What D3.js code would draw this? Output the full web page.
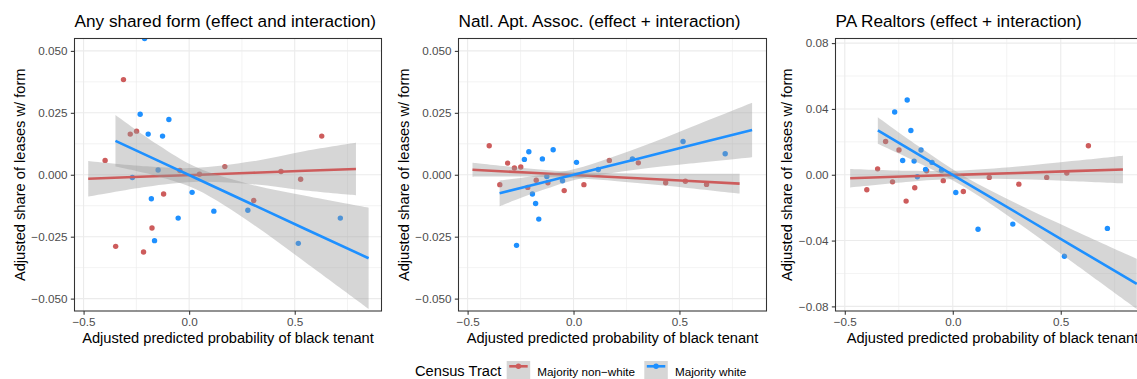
<!DOCTYPE html>
<html>
<head>
<meta charset="utf-8">
<script src="https://cdn.jsdelivr.net/npm/d3@7"></script>
<style>
  body { margin: 0; background: #ffffff; }
  text { font-family: "Liberation Sans", Arial, Helvetica, sans-serif; }
  .tick text { fill: #4d4d4d; font-size: 11.7px; }
  .tick line { stroke: #333333; stroke-width: 1.07px; }
  .domain { display: none; }
</style>
</head>
<body>
<div id="chart"></div>
<script>
// x positions of the binned tracts (same in every panel)
var redX = [-0.398, -0.348, -0.311, -0.279, -0.249, -0.216, -0.176, -0.121, -0.044, 0.049, 0.169, 0.306, 0.435, 0.528, 0.628];
var blueX = [-0.269, -0.232, -0.211, -0.194, -0.179, -0.164, -0.147, -0.126, -0.096, -0.052, 0.014, 0.117, 0.278, 0.517, 0.716];

// y values per panel
var anyRedY = [0.0058, -0.0289, 0.0384, 0.0164, 0.0176, -0.0312, -0.0215, -0.0078, 0.0017, 0.0002, 0.0033, -0.0104, 0.0013, -0.0018, 0.0156];
var anyBlueY = [-0.0011, 0.0244, 0.0550, 0.0164, -0.0097, -0.0266, 0.0019, 0.0156, 0.0223, -0.0175, -0.0071, -0.0147, -0.0143, -0.0277, -0.0175];
var naaRedY = [0.0117, -0.0040, 0.0047, 0.0027, 0.0031, -0.0051, -0.0022, -0.0032, -0.0064, -0.0040, 0.0058, 0.0048, -0.0032, -0.0026, -0.0039];
var naaBlueY = [-0.0285, 0.0062, 0.0093, -0.0078, -0.0116, -0.0179, 0.0064, -0.0007, 0.0101, -0.0024, 0.0050, 0.0021, 0.0064, 0.0134, 0.0085];
var paRedY = [-0.0091, 0.0036, 0.0202, -0.0043, 0.0150, -0.0160, -0.0079, 0.0024, -0.0036, -0.0102, -0.0016, -0.0057, -0.0016, 0.0010, 0.0176];
var paBlueY = [0.0381, 0.0087, 0.0454, 0.0269, 0.0083, -0.0012, 0.0150, 0.0032, 0.0075, 0.0028, -0.0108, -0.0331, -0.0300, -0.0495, -0.0326];

// fitted lines: [x, fit, lower, upper]
var anyRedFit = [[-0.478, -0.0016, -0.0088, 0.0056], [-0.2, -0.0007, -0.0048, 0.0034], [0.02, -0.0001, -0.0029, 0.0027],
  [0.3, 0.0008, -0.0038, 0.0054], [0.55, 0.0016, -0.0064, 0.0096], [0.79, 0.0023, -0.0083, 0.0129]];
var anyBlueFit = [[-0.349, 0.0137, 0.0033, 0.0241], [-0.15, 0.0058, -0.0006, 0.0122], [0.035, -0.0015, -0.0060, 0.0030],
  [0.3, -0.0120, -0.0199, -0.0041], [0.55, -0.0219, -0.0353, -0.0085], [0.85, -0.0337, -0.0541, -0.0133]];
var naaRedFit = [[-0.477, 0.0020, -0.0008, 0.0048], [-0.2, 0.0008, -0.0008, 0.0024], [0.02, -0.0002, -0.0014, 0.0010],
  [0.3, -0.0014, -0.0033, 0.0005], [0.55, -0.0025, -0.0054, 0.0004], [0.784, -0.0036, -0.0076, 0.0004]];
var naaBlueFit = [[-0.349, -0.0075, -0.0127, -0.0023], [-0.15, -0.0032, -0.0063, -0.0001], [0.014, 0.0003, -0.0019, 0.0025],
  [0.3, 0.0064, 0.0021, 0.0107], [0.55, 0.0118, 0.0045, 0.0191], [0.843, 0.0181, 0.0071, 0.0291]];
var paRedFit = [[-0.475, -0.0021, -0.0077, 0.0035], [-0.2, -0.0009, -0.0042, 0.0024], [0.01, -0.0001, -0.0026, 0.0024],
  [0.3, 0.0011, -0.0028, 0.0050], [0.55, 0.0022, -0.0039, 0.0083], [0.788, 0.0032, -0.0052, 0.0116]];
var paBlueFit = [[-0.347, 0.0269, 0.0189, 0.0349], [-0.15, 0.0116, 0.0067, 0.0165], [0.05, -0.0040, -0.0072, -0.0008],
  [0.3, -0.0234, -0.0290, -0.0178], [0.55, -0.0429, -0.0527, -0.0331], [0.852, -0.0663, -0.0815, -0.0511]];

// ticks
var xTicks = [-0.5, 0, 0.5];
var xTickLabels = ["\u22120.5", "0.0", "0.5"];
var xMinor = [-0.25, 0.25, 0.75];
var yTicksA = [-0.05, -0.025, 0, 0.025, 0.05];
var yTickLabelsA = ["\u22120.050", "\u22120.025", "0.000", "0.025", "0.050"];
var yMinorA = [-0.0375, -0.0125, 0.0125, 0.0375];
var yTicksB = [-0.08, -0.04, 0, 0.04, 0.08];
var yTickLabelsB = ["\u22120.08", "\u22120.04", "0.00", "0.04", "0.08"];
var yMinorB = [-0.06, -0.02, 0.02, 0.06];

var titles = ["Any shared form (effect and interaction)", "Natl. Apt. Assoc. (effect + interaction)", "PA Realtors (effect + interaction)"];
var groupNames = ["Majority non\u2212white", "Majority white"];
var colors = ["#CD5C5C", "#1E90FF"];

var svgWidth = 1137;
var svgHeight = 379;
var plotTop = 38.5;
var plotBottom = 311;
var xDomain = [-0.543, 0.911];

var svg = d3.select("#chart")
  .append("svg")
  .attr("width", svgWidth)
  .attr("height", svgHeight);

svg.append("rect").attr("width", svgWidth).attr("height", svgHeight).attr("fill", "#fff");

var panels = [
  { left: 74.5, right: 381.5, yDomain: [-0.055, 0.055], yTicks: yTicksA, yLabels: yTickLabelsA, yMinor: yMinorA,
    redY: anyRedY, blueY: anyBlueY, redFit: anyRedFit, blueFit: anyBlueFit },
  { left: 458.5, right: 766.5, yDomain: [-0.055, 0.055], yTicks: yTicksA, yLabels: yTickLabelsA, yMinor: yMinorA,
    redY: naaRedY, blueY: naaBlueY, redFit: naaRedFit, blueFit: naaBlueFit },
  { left: 835.5, right: 1149.5, yDomain: [-0.0828, 0.0828], yTicks: yTicksB, yLabels: yTickLabelsB, yMinor: yMinorB,
    redY: paRedY, blueY: paBlueY, redFit: paRedFit, blueFit: paBlueFit }
];

panels.forEach(function (p, i) {
  var x = d3.scaleLinear().domain(xDomain).range([p.left, p.right]);
  var y = d3.scaleLinear().domain(p.yDomain).range([plotBottom, plotTop]);
  var g = svg.append("g");

  svg.append("clipPath").attr("id", "clip" + i)
    .append("rect")
    .attr("x", p.left).attr("y", plotTop)
    .attr("width", p.right - p.left).attr("height", plotBottom - plotTop);

  // grid lines
  g.selectAll(".xminor").data(xMinor).enter().append("line")
    .attr("x1", d => x(d)).attr("x2", d => x(d)).attr("y1", plotTop).attr("y2", plotBottom)
    .attr("stroke", "#ebebeb").attr("stroke-width", 0.6);
  g.selectAll(".yminor").data(p.yMinor).enter().append("line")
    .attr("y1", d => y(d)).attr("y2", d => y(d)).attr("x1", p.left).attr("x2", p.right)
    .attr("stroke", "#ebebeb").attr("stroke-width", 0.6);
  g.selectAll(".xmajor").data(xTicks).enter().append("line")
    .attr("x1", d => x(d)).attr("x2", d => x(d)).attr("y1", plotTop).attr("y2", plotBottom)
    .attr("stroke", "#ebebeb").attr("stroke-width", 1.1);
  g.selectAll(".ymajor").data(p.yTicks).enter().append("line")
    .attr("y1", d => y(d)).attr("y2", d => y(d)).attr("x1", p.left).attr("x2", p.right)
    .attr("stroke", "#ebebeb").attr("stroke-width", 1.1);

  var inner = g.append("g").attr("clip-path", "url(#clip" + i + ")");

  // points
  inner.selectAll(".red").data(redX).enter().append("circle")
    .attr("cx", d => x(d)).attr("cy", (d, j) => y(p.redY[j])).attr("r", 2.7).attr("fill", colors[0]);
  inner.selectAll(".blue").data(blueX).enter().append("circle")
    .attr("cx", d => x(d)).attr("cy", (d, j) => y(p.blueY[j])).attr("r", 2.7).attr("fill", colors[1]);

  // smooth: ribbon then line, per group
  var band = d3.area().curve(d3.curveCatmullRom)
    .x(d => x(d[0])).y0(d => y(d[2])).y1(d => y(d[3]));
  var line = d3.line().x(d => x(d[0])).y(d => y(d[1]));
  [p.redFit, p.blueFit].forEach(function (fit, k) {
    inner.append("path").datum(fit).attr("d", band).attr("fill", "#999999").attr("fill-opacity", 0.4);
    inner.append("path").datum(fit).attr("d", line).attr("fill", "none")
      .attr("stroke", colors[k]).attr("stroke-width", 2.6);
  });

  // border
  g.append("rect")
    .attr("x", p.left).attr("y", plotTop)
    .attr("width", p.right - p.left).attr("height", plotBottom - plotTop)
    .attr("fill", "none").attr("stroke", "#333333").attr("stroke-width", 1.07);

  // axes
  g.append("g")
    .attr("transform", `translate(0, ${plotBottom})`)
    .call(d3.axisBottom(x).tickValues(xTicks).tickFormat((d, j) => xTickLabels[j]).tickSize(3.67).tickPadding(2.9));
  var yAxis = g.append("g")
    .attr("transform", `translate(${p.left}, 0)`)
    .call(d3.axisLeft(y).tickValues(p.yTicks).tickFormat((d, j) => p.yLabels[j]).tickSize(3.67).tickPadding(3.4));
  g.selectAll(".tick text").attr("font-family", null);

  // axis titles
  var bb = yAxis.node().getBBox();
  g.append("text")
    .attr("transform", `translate(${p.left + bb.x - 6.8}, ${(plotTop + plotBottom) / 2}) rotate(-90)`)
    .attr("text-anchor", "middle")
    .attr("font-size", "14.67px")
    .attr("fill", "#000")
    .text("Adjusted share of leases w/ form");

  g.append("text")
    .attr("x", (p.left + p.right) / 2)
    .attr("y", 343)
    .attr("text-anchor", "middle")
    .attr("font-size", "14.67px")
    .attr("fill", "#000")
    .text("Adjusted predicted probability of black tenant");

  // title
  g.append("text")
    .attr("x", p.left)
    .attr("y", 27.3)
    .attr("font-size", "17.2px")
    .attr("fill", "#000")
    .text(titles[i]);
});

// legend
var legend = svg.append("g");
legend.append("text")
  .attr("x", 415).attr("y", 375.6)
  .attr("font-size", "14.67px")
  .text("Census Tract");

var keyX = [506.7, 644.3];
groupNames.forEach(function (name, k) {
  legend.append("rect")
    .attr("x", keyX[k]).attr("y", 361)
    .attr("width", 23.5).attr("height", 24)
    .attr("fill", "#999999").attr("fill-opacity", 0.4);
  legend.append("line")
    .attr("x1", keyX[k] + 2.5).attr("x2", keyX[k] + 21)
    .attr("y1", 366.3).attr("y2", 366.3)
    .attr("stroke", colors[k]).attr("stroke-width", 2.6);
  legend.append("circle")
    .attr("cx", keyX[k] + 11.75).attr("cy", 366.3).attr("r", 2.7)
    .attr("fill", colors[k]);
  legend.append("text")
    .attr("x", keyX[k] + 30.6).attr("y", 376.2)
    .attr("font-size", "11.7px")
    .attr("fill", "#000")
    .text(name);
});
</script>
</body>
</html>
